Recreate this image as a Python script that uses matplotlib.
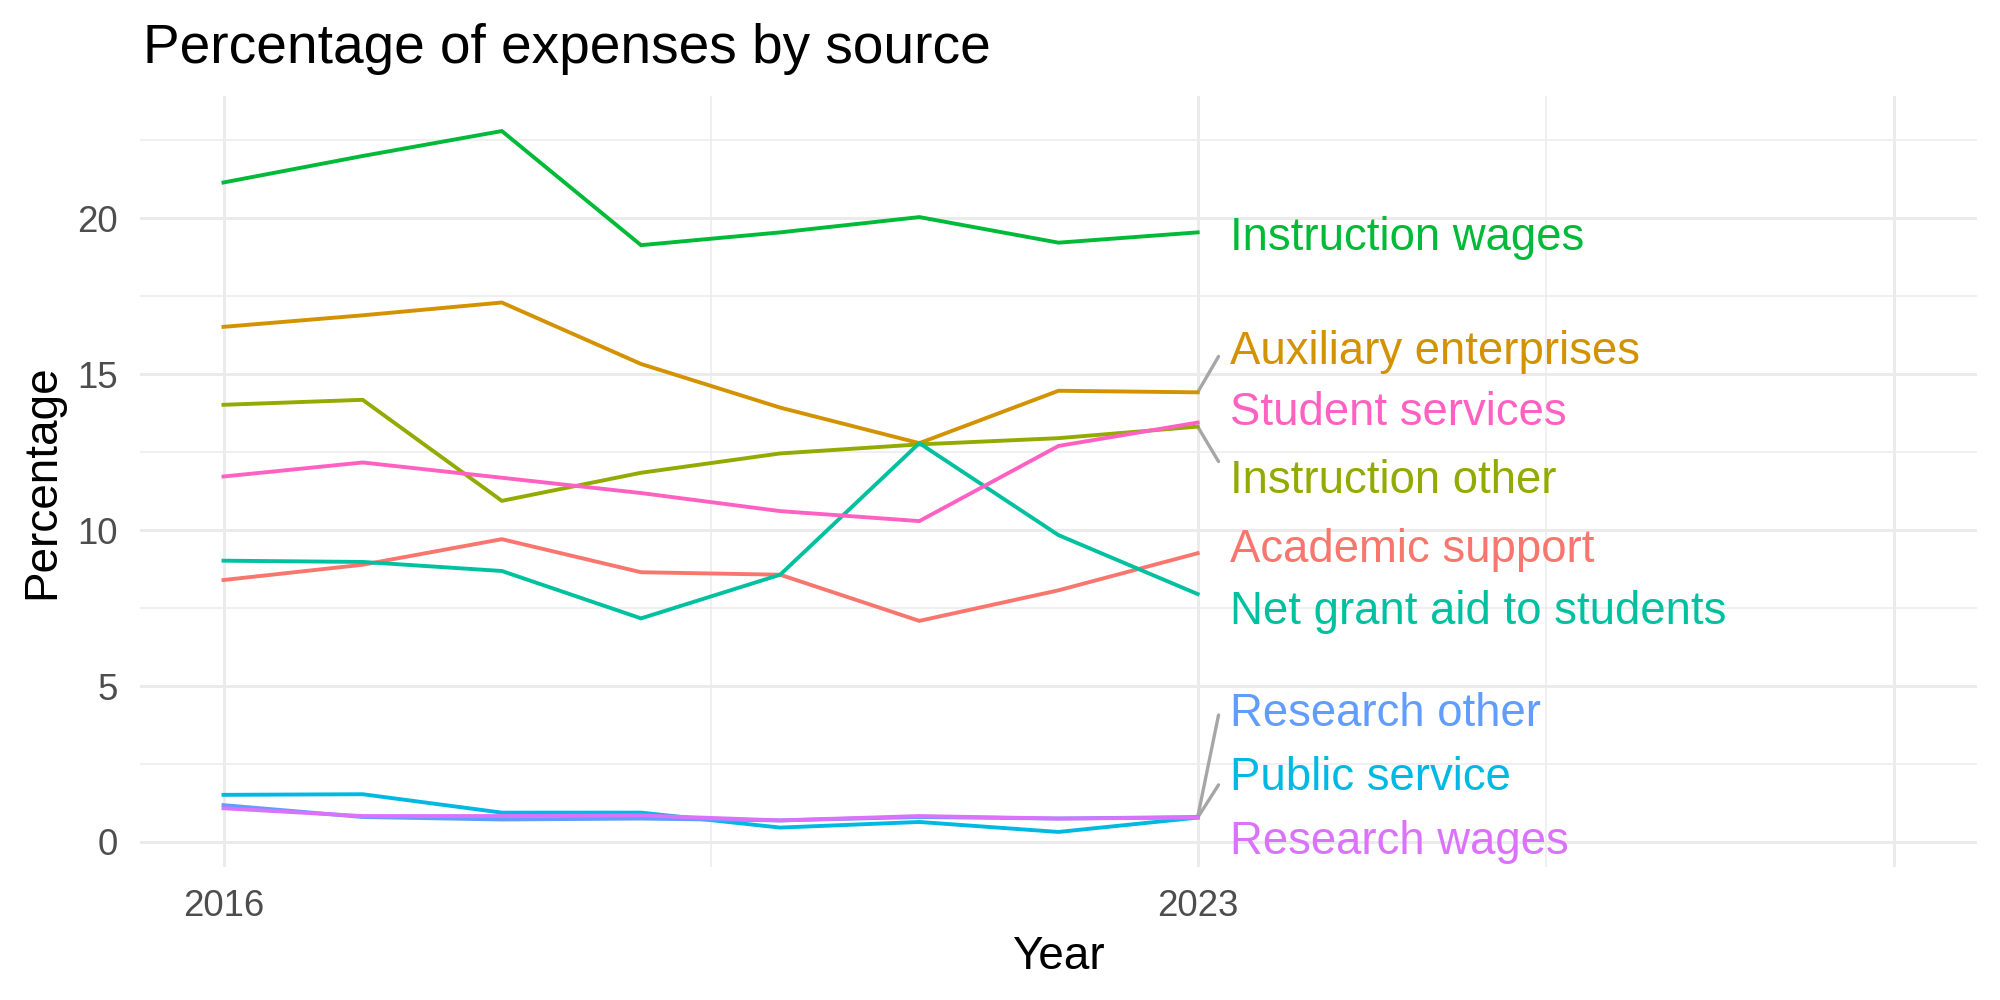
import matplotlib
matplotlib.use("Agg")
import matplotlib.pyplot as plt
import numpy as np

# Data
years = [2016, 2017, 2018, 2019, 2020, 2021, 2022, 2023]

academic_support = [8.40, 8.89, 9.71, 8.65, 8.57, 7.09, 8.07, 9.26]
auxiliary_enterprises = [16.52, 16.89, 17.30, 15.33, 13.93, 12.79, 14.47, 14.42]
instruction_other = [14.02, 14.18, 10.94, 11.84, 12.46, 12.75, 12.95, 13.32]
instruction_wages = [21.15, 22.00, 22.80, 19.14, 19.55, 20.04, 19.22, 19.55]
net_grant_aid = [9.02, 8.98, 8.69, 7.17, 8.57, 12.79, 9.84, 7.95]
public_service = [1.51, 1.53, 0.94, 0.94, 0.46, 0.64, 0.32, 0.78]
research_other = [1.18, 0.80, 0.72, 0.75, 0.69, 0.80, 0.75, 0.80]
research_wages = [1.08, 0.83, 0.83, 0.85, 0.69, 0.83, 0.75, 0.78]
student_services = [11.72, 12.17, 11.68, 11.19, 10.61, 10.29, 12.70, 13.45]

sources = ["Academic support", "Auxiliary enterprises", "Instruction other",
           "Instruction wages", "Net grant aid to students", "Public service",
           "Research other", "Research wages", "Student services"]
values = [academic_support, auxiliary_enterprises, instruction_other,
          instruction_wages, net_grant_aid, public_service,
          research_other, research_wages, student_services]
# ggplot default hue palette for 9 groups
colors = ["#F8766D", "#D39200", "#93AA00", "#00BA38", "#00C19F",
          "#00B9E3", "#619CFF", "#DB72FB", "#FF61C3"]

# Repelled label placement (label centre y) and segment end offsets
label_y = [9.5, 15.86, 11.72, 19.5, 7.5, 2.18, 4.23, 0.12, 13.91]
segment_dy = [None, -0.29, 0.48, None, None, -0.35, -0.16, None, None]

plt.rcParams["font.family"] = ["Liberation Sans", "DejaVu Sans"]

fig = plt.figure(figsize=(10, 5), dpi=200)
ax = fig.add_axes([0.070, 0.133, 0.9185, 0.771])

for name, vals, col in zip(sources, values, colors):
    ax.plot(years, vals, color=col, linewidth=1.4, solid_joinstyle="miter", zorder=3)

label_x = 2023.23
seg_x = 2023.15
lab_size = 16.4
cap_off = -0.716 * lab_size / 2
for name, vals, col, ly, dy in zip(sources, values, colors, label_y, segment_dy):
    if dy is not None:
        ax.plot([years[-1], seg_x], [vals[-1], ly + dy], color="#A6A6A6",
                linewidth=1.2, solid_capstyle="round", zorder=2)
    ax.annotate(name, xy=(label_x, ly), xytext=(0, cap_off), textcoords="offset points",
                ha="left", va="baseline", color=col, fontsize=lab_size, zorder=4)

# Scales with 5% expansion like ggplot
x_lo, x_hi = 2016, 2028
xr = x_hi - x_lo
ax.set_xlim(x_lo - 0.05 * xr, x_hi + 0.05 * xr)
all_vals = np.concatenate([np.array(v) for v in values])
y_lo, y_hi = all_vals.min(), all_vals.max()
yr = y_hi - y_lo
ax.set_ylim(y_lo - 0.05 * yr, y_hi + 0.05 * yr)

ax.set_xticks([2016, 2023, 2028])
ax.set_xticklabels(["2016", "2023", ""])
ax.set_xticks([2019.5, 2025.5], minor=True)
ax.set_yticks([0, 5, 10, 15, 20])
ax.set_yticks([2.5, 7.5, 12.5, 17.5, 22.5], minor=True)

ax.grid(which="major", color="#EBEBEB", linewidth=1.05, zorder=0)
ax.grid(which="minor", color="#EBEBEB", linewidth=0.55, zorder=0)
ax.set_axisbelow(True)
for s in ax.spines.values():
    s.set_visible(False)
ax.tick_params(which="both", length=0, labelsize=13.2, labelcolor="#4D4D4D", pad=8)

ax.set_xlabel("Year", fontsize=16.5)
ax.set_ylabel("Percentage", fontsize=16.5)
ax.xaxis.set_label_coords(0.5, -0.088)
ax.yaxis.set_label_coords(-0.041, 0.5)

fig.text(0.0715, 0.937, "Percentage of expenses by source", fontsize=19.8,
         ha="left", va="baseline")

fig.savefig("out.png", dpi=200, facecolor="white")
